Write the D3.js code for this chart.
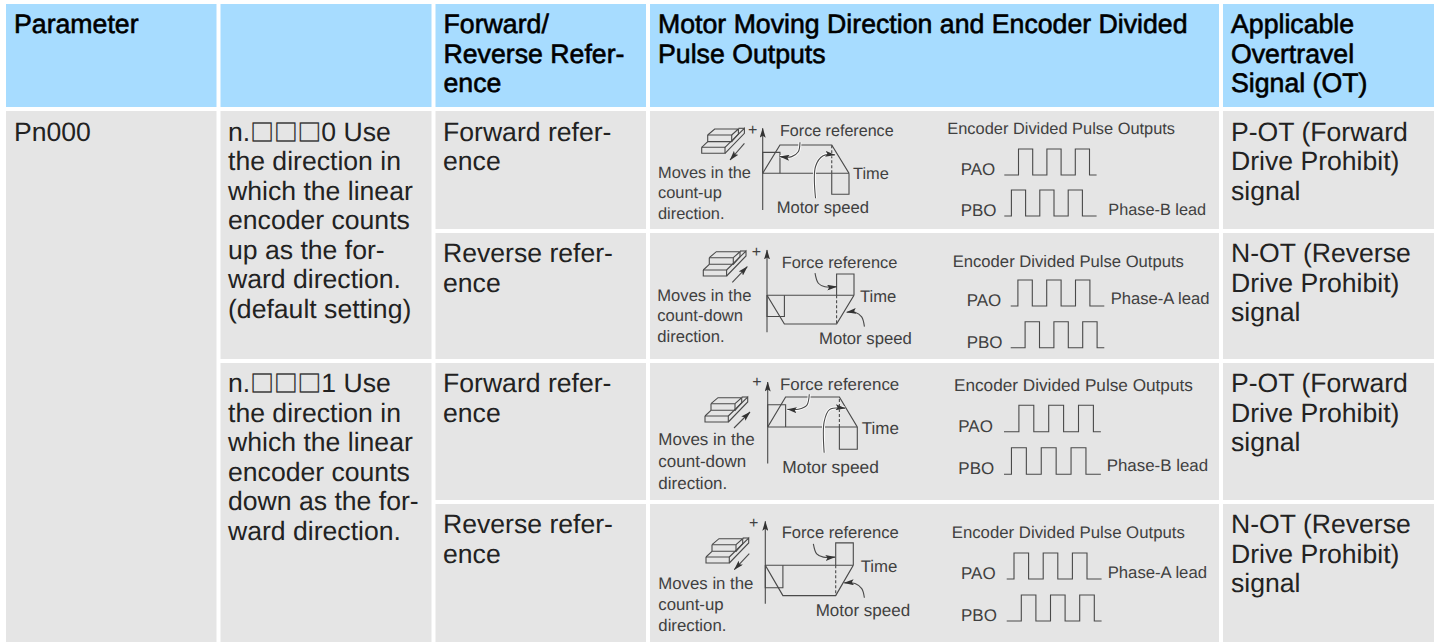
<!DOCTYPE html>
<html>
<head>
<meta charset="utf-8">
<script src="https://cdn.jsdelivr.net/npm/d3@7"></script>
<style>
  html, body { margin: 0; padding: 0; background: #fff; overflow: hidden; }
  svg { display: block; font-family: "Liberation Sans", Arial, sans-serif; }
  text { text-rendering: geometricPrecision; }
  .soft { opacity: 0.995; }
</style>
</head>
<body>
<svg id="chart" width="1438" height="642"></svg>
<script>
// table text
const headers = [
  ["Parameter"],
  [],
  ["Forward/", "Reverse Refer-", "ence"],
  ["Motor Moving Direction and Encoder Divided", "Pulse Outputs"],
  ["Applicable", "Overtravel", "Signal (OT)"]
];
const paramName = ["Pn000"];
const settingText = [
  ["n.□□□0 Use", "the direction in", "which the linear", "encoder counts", "up as the for-", "ward direction.", "(default setting)"],
  ["n.□□□1 Use", "the direction in", "which the linear", "encoder counts", "down as the for-", "ward direction."]
];
const referenceText = [
  ["Forward refer-", "ence"],
  ["Reverse refer-", "ence"],
  ["Forward refer-", "ence"],
  ["Reverse refer-", "ence"]
];
const signalText = [
  ["P-OT (Forward", "Drive Prohibit)", "signal"],
  ["N-OT (Reverse", "Drive Prohibit)", "signal"],
  ["P-OT (Forward", "Drive Prohibit)", "signal"],
  ["N-OT (Reverse", "Drive Prohibit)", "signal"]
];
const movesText = [
  ["Moves in the", "count-up", "direction."],
  ["Moves in the", "count-down", "direction."],
  ["Moves in the", "count-down", "direction."],
  ["Moves in the", "count-up", "direction."]
];

// motor speed and force reference, t in 0..5, level in -1..1
const speedForward = [[0, 0], [1, 1], [4, 1], [5, 0]];
const speedReverse = [[0, 0], [1, -1], [4, -1], [5, 0]];
const forceForward = [
  [[0, 0], [0, 0.74], [1, 0.74], [1, 0]],
  [[4, 0], [4, -0.74], [5, -0.74], [5, 0]]
];
const forceReverse = [
  [[0, 0], [0, -0.74], [1, -0.74], [1, 0]],
  [[4, 0], [4, 0.74], [5, 0.74], [5, 0]]
];

// callout leaders in the same t / level units
const forceLeaders = [
  [[2.16, 1.1], [2.06, 0.76], [1.68, 0.59], [1.0, 0.59]],
  [[2.76, 0.77], [2.95, 0.42], [3.33, 0.3], [4.0, 0.3]],
  [[2.32, 1.09], [2.18, 0.72], [1.71, 0.59], [1.09, 0.59]],
  [[2.73, 0.71], [2.92, 0.38], [3.3, 0.27], [3.96, 0.27]]
];
const speedLeaders = [
  [[3.06, -0.88], [3.06, 0.24], [3.5, 0.62], [4.18, 0.65]],
  [[5.6, -1.09], [5.44, -0.75], [5.06, -0.59], [4.58, -0.59]],
  [[3.15, -0.86], [3.15, 0.17], [3.45, 0.58], [4.32, 0.63]],
  [[5.63, -1.07], [5.48, -0.77], [5.1, -0.6], [4.49, -0.58]]
];

// pulse edges in half periods
const leadEdges = [0.5, 1.5, 2.5, 3.5, 4.5, 5.5];
const lagEdges = [1, 2, 3, 4, 5, 6];
const pulseEnd = 6.5;

// layout of the cells
const colX = [6, 220.5, 435.5, 650, 1223];
const colR = [216.5, 431.5, 646, 1219, 1434];
const rowTop = [111, 233, 363, 504];
const rowBottom = [229, 359, 500, 642];
const lineGap = 29.5;
const headBase = 33;
const rowBase = [140.5, 262, 392, 533];

// layout of the diagrams, one entry per row
const panels = [
  { x0: 762.7, x1: 849, y0: 173.3, vu: 28.3, top: 1.59, bottom: -1.3, fs: 16.4, forceFs: 16.1, motorFs: 16.6,
    speed: speedForward, force: forceForward, halo: true,
    icon: [701.7, 153.3], arrow: [[42.7, -10], [28.3, 6.7]],
    moves: [658, 178, 20.3], forceLabel: [780, 136], time: [853, 179.3], motor: [776.7, 212.7], plus: [753, 135],
    encoder: [947.3, 134.3, 16.4], pao: [960.7, 175], pbo: [960.7, 216],
    phase: ["Phase-B lead", 1108.3, 215, 16.3],
    px0: 1004.3, unit: 14.2, amp: 26, paoLow: 175, pboLow: 216, paoEdges: lagEdges, pboEdges: leadEdges },
  { x0: 767, x1: 854, y0: 295.3, vu: 28.7, top: 1.58, bottom: -1.29, fs: 16.6, forceFs: 16.4, motorFs: 16.7,
    speed: speedReverse, force: forceReverse, halo: false,
    icon: [703.3, 276], arrow: [[29, 6.3], [44, -9.3]],
    moves: [657.3, 300.7, 20.5], forceLabel: [781.7, 267.7], time: [860, 301.7], motor: [819, 344.3], plus: [756.7, 257],
    encoder: [952.7, 266.7, 16.65], pao: [966.7, 306], pbo: [966.7, 347.7],
    phase: ["Phase-A lead", 1110.7, 304, 16.6],
    px0: 1010.7, unit: 14.4, amp: 26, paoLow: 306, pboLow: 347.7, paoEdges: leadEdges, pboEdges: lagEdges },
  { x0: 767.7, x1: 857.3, y0: 427, vu: 30, top: 1.5, bottom: -1.22, fs: 17, forceFs: 16.9, motorFs: 17.4,
    speed: speedForward, force: forceForward, halo: true,
    icon: [705, 422], arrow: [[29, 6], [45, -10]],
    moves: [658.3, 445.3, 21.7], forceLabel: [780, 390.3], time: [861.7, 433.7], motor: [782.3, 473], plus: [757.3, 387],
    encoder: [954, 391, 17.2], pao: [958.3, 431.7], pbo: [958.3, 474.3],
    phase: ["Phase-B lead", 1106.7, 471, 16.9],
    px0: 1004, unit: 14.9, amp: 26.5, paoLow: 431.7, pboLow: 474.3, paoEdges: lagEdges, pboEdges: leadEdges },
  { x0: 765.3, x1: 853.3, y0: 565.3, vu: 30.3, top: 1.45, bottom: -1.27, fs: 16.8, forceFs: 16.6, motorFs: 17,
    speed: speedReverse, force: forceReverse, halo: false,
    icon: [706, 563], arrow: [[43.3, -9.3], [28.3, 6.7]],
    moves: [658.3, 588.7, 21.3], forceLabel: [781.7, 538], time: [860.7, 572], motor: [815.7, 616.3], plus: [754, 528],
    encoder: [951.7, 538.3, 16.8], pao: [961, 579], pbo: [961, 621],
    phase: ["Phase-A lead", 1107.7, 577.7, 16.7],
    px0: 1006.7, unit: 14.6, amp: 26, paoLow: 579, pboLow: 621, paoEdges: leadEdges, pboEdges: lagEdges }
];

const iconLines = [
  [[0, -6], [23.3, -6], [23.3, 0], [0, 0], [0, -6]],
  [[23.3, -6], [42.7, -25], [42.7, -20], [23.3, 0]],
  [[36.7, -25], [42.7, -25]],
  [[6, -18.3], [30, -18.3], [30, -11.7], [6, -11.7], [6, -18.3]],
  [[6, -18.3], [13, -24.3], [36.7, -24.3], [30, -18.3]],
  [[36.7, -24.3], [36.7, -19.3], [30, -11.7]],
  [[6, -11.7], [0, -6]]
];

const headBlue = "#a7dcff", cellGrey = "#e5e5e5", ink = "#4a4a4a", labelInk = "#404040";

const svg = d3.select("#chart");

const defs = svg.append("defs");
defs.append("marker")
  .attr("id", "head")
  .attr("markerUnits", "userSpaceOnUse")
  .attr("viewBox", "0 0 10 6")
  .attr("refX", 9.5).attr("refY", 3)
  .attr("markerWidth", 10).attr("markerHeight", 6)
  .attr("orient", "auto")
  .append("path").attr("d", "M0,0L10,3L0,6L2,3Z").attr("fill", "#333");

// cell backgrounds
function cell(x, y, x2, y2, fill) {
  svg.append("rect")
    .attr("x", x).attr("y", y)
    .attr("width", x2 - x).attr("height", y2 - y)
    .attr("fill", fill);
}
colX.forEach((x, i) => cell(x, 4, colR[i], 107, headBlue));
cell(colX[0], 111, colR[0], 642, cellGrey);
cell(colX[1], 111, colR[1], 359, cellGrey);
cell(colX[1], 363, colR[1], 642, cellGrey);
[2, 3, 4].forEach(c => rowTop.forEach((y, r) => cell(colX[c], y, colR[c], rowBottom[r], cellGrey)));

// multi line cell text, boxes get a font that has the glyph
function cellText(lines, x, base, bold) {
  const t = svg.append("g").attr("class", "soft").selectAll("text")
    .data(lines)
    .enter()
    .append("text")
    .attr("x", x)
    .attr("y", (d, i) => base + i * lineGap)
    .attr("font-size", bold ? 26.7 : 26.6)
    .attr("fill", bold ? "#000" : "#222");
  if (bold) t.attr("stroke", "#000").attr("stroke-width", 0.6);
  t.each(function (d) {
    const sel = d3.select(this);
    d.split(/(□)/).filter(s => s).forEach(part => {
      const span = sel.append("tspan").text(part);
      if (part === "□") {
        span.attr("font-family", "Noto Sans CJK JP").attr("font-size", 23.7)
          .attr("stroke", "#222").attr("stroke-width", 0.3);
      }
    });
  });
}
headers.forEach((lines, c) => cellText(lines, colX[c] + 8, headBase, true));
cellText(paramName, colX[0] + 8, rowBase[0]);
cellText(settingText[0], colX[1] + 7.5, rowBase[0]);
cellText(settingText[1], colX[1] + 7.5, rowBase[2]);
referenceText.forEach((lines, r) => cellText(lines, colX[2] + 7.5, rowBase[r]));
signalText.forEach((lines, r) => cellText(lines, colX[4] + 8, rowBase[r]));

function label(g, text, x, y, size) {
  g.append("text")
    .attr("x", x).attr("y", y)
    .attr("font-size", size)
    .attr("fill", labelInk)
    .text(text);
}

function drawPanel(p, i) {
  const g = svg.append("g").attr("class", "panel soft");
  const xScale = d3.scaleLinear().domain([0, 5]).range([p.x0, p.x1]);
  const yScale = d3.scaleLinear().domain([-1, 1]).range([p.y0 + p.vu, p.y0 - p.vu]);
  const line = d3.line().x(d => xScale(d[0])).y(d => yScale(d[1]));
  const curve = d3.line().x(d => xScale(d[0])).y(d => yScale(d[1])).curve(d3.curveCatmullRom.alpha(0.5));

  const stroke = (sel, w) => sel.attr("fill", "none").attr("stroke", ink).attr("stroke-width", w || 1.1);

  // level axis and time axis
  stroke(g.append("line")
    .attr("x1", xScale(0)).attr("x2", xScale(0))
    .attr("y1", yScale(p.bottom)).attr("y2", yScale(p.top))
    .attr("marker-end", "url(#head)"));
  stroke(g.append("path").attr("d", line([[0, 0], [5, 0]])));

  // speed and force
  stroke(g.append("path").attr("d", line(p.speed)), 1.2);
  p.force.forEach(f => stroke(g.append("path").attr("d", line(f))));
  stroke(g.append("path").attr("d", line([[4, 0], [4, p.speed[2][1]]]))).attr("stroke-dasharray", "3,2");

  // leaders
  if (p.halo) {
    [forceLeaders[i], speedLeaders[i]].forEach(l => {
      g.append("path").attr("d", curve(l)).attr("fill", "none").attr("stroke", "#fff").attr("stroke-width", 3);
    });
  }
  [forceLeaders[i], speedLeaders[i]].forEach(l => {
    stroke(g.append("path").attr("d", curve(l)).attr("marker-end", "url(#head)"));
  });

  // slide block
  const icon = g.append("g").attr("transform", `translate(${p.icon[0]},${p.icon[1]})`);
  const iconLine = d3.line();
  iconLines.forEach(l => stroke(icon.append("path").attr("d", iconLine(l))));
  stroke(icon.append("path").attr("d", iconLine(p.arrow)).attr("marker-end", "url(#head)"));

  // pulses
  const tScale = d3.scaleLinear().domain([0, 1]).range([p.px0, p.px0 + p.unit]);
  const pulse = (edges, low) => {
    const yP = d3.scaleLinear().domain([0, 1]).range([low, low - p.amp]);
    const pts = [[0, 0]];
    edges.forEach((e, k) => {
      const from = k % 2 ? 1 : 0;
      pts.push([e, from], [e, 1 - from]);
    });
    pts.push([pulseEnd, 0]);
    return d3.line().x(d => tScale(d[0])).y(d => yP(d[1]))(pts);
  };
  stroke(g.append("path").attr("d", pulse(p.paoEdges, p.paoLow)));
  stroke(g.append("path").attr("d", pulse(p.pboEdges, p.pboLow)));

  // labels
  movesText[i].forEach((t, k) => label(g, t, p.moves[0], p.moves[1] + k * p.moves[2], p.fs));
  label(g, "Force reference", p.forceLabel[0], p.forceLabel[1], p.forceFs);
  label(g, "Time", p.time[0], p.time[1], p.fs);
  label(g, "Motor speed", p.motor[0], p.motor[1], p.motorFs);
  label(g, "+", p.plus[0] - 5, p.plus[1], 16);
  label(g, "Encoder Divided Pulse Outputs", p.encoder[0], p.encoder[1], p.encoder[2]);
  label(g, "PAO", p.pao[0], p.pao[1], 17);
  label(g, "PBO", p.pbo[0], p.pbo[1], 17);
  label(g, p.phase[0], p.phase[1], p.phase[2], p.phase[3]);
}
panels.forEach(drawPanel);
</script>
</body>
</html>
